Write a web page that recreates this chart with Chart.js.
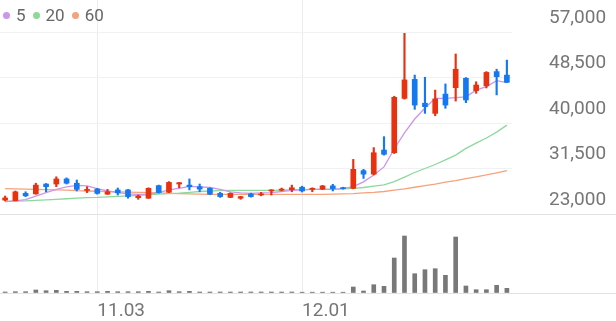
<!DOCTYPE html>
<html>
<head>
<meta charset="utf-8">
<script src="https://cdn.jsdelivr.net/npm/chart.js@4.4.1/dist/chart.umd.min.js"></script>
<style>
  html, body { margin: 0; padding: 0; background: #fff; }
  #wrap { position: relative; width: 616px; height: 321px; overflow: hidden; font-family: Roboto, sans-serif; }
  #priceBox { position: absolute; left: 0; top: 0; width: 616px; height: 214px; }
  #volBox { position: absolute; left: 0; top: 214px; width: 616px; height: 107px; }
  #legend { position: absolute; left: 3px; top: 5px; z-index: 2; display: flex; align-items: center; font-size: 17px; color: #666; }
  .lg-item { display: flex; align-items: center; margin-right: 7px; }
  .lg-dot { width: 7px; height: 7px; border-radius: 50%; margin-right: 6px; }
</style>
</head>
<body>
<div id="wrap">
  <div id="legend"></div>
  <div id="priceBox"><canvas id="priceChart"></canvas></div>
  <div id="volBox"><canvas id="volChart"></canvas></div>
</div>
<script>
const DATES = ['10.21','10.22','10.23','10.24','10.27','10.28','10.29','10.30','10.31','11.03',
  '11.04','11.05','11.06','11.07','11.10','11.11','11.12','11.13','11.14','11.17',
  '11.18','11.19','11.20','11.21','11.24','11.25','11.26','11.27','11.28','12.01',
  '12.02','12.03','12.04','12.05','12.08','12.09','12.10','12.11','12.12','12.15',
  '12.16','12.17','12.18','12.19','12.22','12.23','12.24','12.26','12.29','12.30'];
const SHOWN_DATES = ['11.03', '12.01'];

const OPEN = [25600,25500,26850,26750,28600,28600,29550,28750,27400,27650,
  26700,27500,27500,26050,25950,28300,27050,28600,28400,28100,
  27800,26850,26100,25950,26750,26550,27300,27450,27550,28000,
  27600,27650,28250,27900,27800,31100,30450,34950,34450,44600,
  48150,43700,41800,45400,46600,48350,46050,46950,49600,48950];
const HIGH = [26350,27300,27150,28750,28700,29950,29750,29350,28100,27800,
  27600,27850,27600,26550,27900,28400,29050,28900,29550,28600,
  27900,27050,26950,26300,26900,27050,27550,27850,28400,28200,
  27900,28350,28550,28000,33200,31350,35400,37450,45000,56750,
  48950,48550,46150,47300,52900,48500,47700,49600,50050,51750];
const LOW = [25450,25450,26250,26700,27150,28100,28600,27300,27000,26700,
  26650,26550,25950,25750,25900,26900,27000,27900,27500,27150,
  26600,26100,26050,25750,26150,26400,26550,27300,27150,27100,
  27150,27550,27300,27650,27700,29650,30300,34000,34300,44450,
  42550,41800,41350,42750,44100,43800,45550,46550,45250,47550];
const CLOSE = [26000,27150,26400,28400,28100,29550,28750,27600,27600,26850,
  27150,26950,26250,26350,27800,27000,28900,28850,28100,27650,
  26700,26250,26850,26250,26250,26750,27500,27650,27900,27300,
  27800,28250,27750,27750,31350,30450,34450,34150,44800,48050,
  43350,43050,44500,43350,50050,44300,47100,49450,48650,47600];

const MA5 = [25300,25450,25700,26350,27000,27600,28050,28350,28250,27750,
  27300,27000,26750,26650,26700,27000,27500,27800,28150,28050,
  27950,27600,27150,26950,26850,26950,27000,27200,27400,27500,
  27600,27600,27600,27750,28100,29000,30300,31800,35150,38150,
  40750,42800,44600,44600,44750,44900,46150,46800,47900,47550];
const MA20 = [25350,25400,25450,25550,25650,25750,25850,25950,26050,26100,
  26200,26300,26400,26500,26600,26700,26800,26900,27050,27200,
  27300,27350,27400,27400,27400,27400,27400,27450,27500,27550,
  27600,27600,27650,27700,27800,27950,28200,28450,29050,29900,
  30750,31500,32250,33100,34000,35250,36250,37200,38300,39600];
const MA60 = [27750,27700,27650,27600,27550,27500,27450,27350,27300,27250,
  27200,27150,27100,27050,27000,26950,26850,26800,26750,26700,
  26650,26650,26650,26650,26650,26650,26650,26650,26650,26650,
  26650,26650,26700,26750,26800,26950,27050,27200,27450,27700,
  28000,28300,28600,28950,29250,29600,29950,30300,30700,31100];

const VOLUME = [100000,130000,130000,300000,230000,270000,170000,170000,130000,130000,
  170000,130000,130000,130000,170000,100000,230000,130000,170000,100000,
  100000,100000,100000,100000,100000,100000,100000,100000,100000,80000,
  80000,80000,80000,80000,600000,200000,830000,670000,3500000,5700000,
  1930000,2330000,2430000,1770000,5600000,700000,330000,330000,770000,470000];

const PRICE_TICKS = [23000, 31500, 40000, 48500, 57000];
const PRICE_MIN = 23000;
const PRICE_MAX = 62980;
const VOL_MAX = 7900000;

const MA_LABELS = ['5', '20', '60'];
const MA_COLORS = ['#cc95ee', '#8cd99c', '#f6a27c'];
const UP = '#e8310e';
const DOWN = '#1479f0';
const AXIS_W = 104;
const TEXT = '#767676';
const FONT = { family: 'Roboto', size: 19 };

const candleColors = OPEN.map((o, i) => CLOSE[i] >= o ? UP : DOWN);
const vGrid = ctx => SHOWN_DATES.includes(DATES[ctx.index]) ? '#ececec' : 'rgba(0,0,0,0)';

function buildLegend() {
  document.getElementById('legend').innerHTML = MA_LABELS.map((l, i) => `
    <span class="lg-item"><span class="lg-dot" style="background:${MA_COLORS[i]}"></span>${l}</span>
  `).join('');
}

function buildPriceChart() {
  const ctx = document.getElementById('priceChart').getContext('2d');
  const maSets = [MA5, MA20, MA60].map((d, i) => ({
    type: 'line', label: MA_LABELS[i], data: d,
    borderColor: MA_COLORS[i], borderWidth: 1.3, pointRadius: 0, tension: 0, order: 2
  }));
  new Chart(ctx, {
    type: 'bar',
    data: {
      labels: DATES,
      datasets: [
        { label: 'body', data: OPEN.map((o, i) => [o, CLOSE[i]]), backgroundColor: candleColors,
          barThickness: 5, grouped: false, minBarLength: 1, order: 1 },
        { label: 'wick', data: LOW.map((l, i) => [l, HIGH[i]]), backgroundColor: candleColors,
          barThickness: 1.5, grouped: false, order: 1 },
        ...maSets
      ]
    },
    options: {
      responsive: true, maintainAspectRatio: false, animation: false,
      plugins: { legend: { display: false }, tooltip: { enabled: false } },
      layout: { padding: 0 },
      scales: {
        x: {
          offset: true,
          grid: { offset: false, drawTicks: false, color: vGrid },
          ticks: { display: false },
          border: { display: false }
        },
        y: {
          position: 'right', min: PRICE_MIN, max: PRICE_MAX,
          afterBuildTicks: s => { s.ticks = PRICE_TICKS.map(v => ({ value: v })); },
          afterFit: s => { s.width = AXIS_W; s.paddingTop = 0; s.paddingBottom = 0; },
          grid: { drawTicks: false, color: c => c.tick && c.tick.value === PRICE_MIN ? 'rgba(0,0,0,0)' : '#f1f1f1' },
          border: { display: false },
          ticks: { padding: 37, labelOffset: -14, color: TEXT, font: FONT,
            callback: v => v.toLocaleString('en-US') }
        }
      }
    }
  });
}

function buildVolumeChart() {
  const ctx = document.getElementById('volChart').getContext('2d');
  new Chart(ctx, {
    type: 'bar',
    data: {
      labels: DATES,
      datasets: [{ label: 'volume', data: VOLUME, backgroundColor: '#787878', barThickness: 4 }]
    },
    options: {
      responsive: true, maintainAspectRatio: false, animation: false,
      plugins: { legend: { display: false }, tooltip: { enabled: false } },
      layout: { padding: 0 },
      scales: {
        x: {
          offset: true,
          grid: { offset: false, drawTicks: false, color: vGrid },
          border: { display: false },
          afterFit: s => { s.height = 28; s.paddingLeft = 0; s.paddingRight = 0; },
          ticks: { autoSkip: false, maxRotation: 0, align: 'start', padding: 7, color: TEXT, font: FONT,
            callback: (v, i) => SHOWN_DATES.includes(DATES[i]) ? DATES[i] : '' }
        },
        y: {
          position: 'right', min: 0, max: VOL_MAX,
          afterBuildTicks: s => { s.ticks = [{ value: 0 }, { value: VOL_MAX }]; },
          afterFit: s => { s.width = AXIS_W; },
          ticks: { display: false },
          grid: { color: '#e3e3e3', tickColor: '#e3e3e3', drawTicks: true, tickLength: AXIS_W },
          border: { display: false }
        }
      }
    }
  });
}

buildLegend();
buildPriceChart();
buildVolumeChart();
</script>
</body>
</html>
